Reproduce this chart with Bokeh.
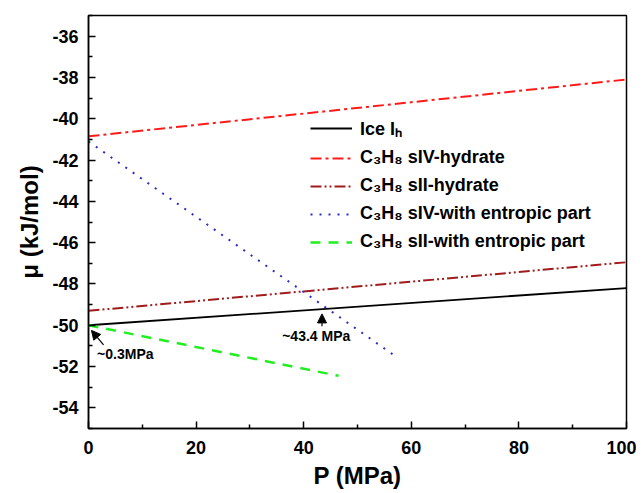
from bokeh.plotting import figure
from bokeh.models import Legend, LegendItem, Arrow, NormalHead, Label, Range1d, FixedTicker
from bokeh.embed import file_html
from bokeh.resources import INLINE

# ---- data ----
p_ice = [0, 100]
mu_ice = [-50.0, -48.2]
p_siv = [0, 100]
mu_siv = [-40.85, -38.1]
p_sii = [0, 100]
mu_sii = [-49.3, -46.95]
p_siv_ent = [0, 56.5]
mu_siv_ent = [-41.1, -51.4]
p_sii_ent = [0, 46.5]
mu_sii_ent = [-50.0, -52.45]

x_ticks = [0, 20, 40, 60, 80, 100]
x_minor = [10, 30, 50, 70, 90]
y_ticks = [-36, -38, -40, -42, -44, -46, -48, -50, -52, -54]
y_minor = [-35, -37, -39, -41, -43, -45, -47, -49, -51, -53, -55]
y_tick_labels = ["-36", "-38", "-40", "-42", "-44", "-46", "-48", "-50", "-52", "-54"]

# annotations
ann_text = ["~0.3MPa", "~43.4 MPa"]
ann_tx = [1.6, 36.0]
ann_ty = [-51.0, -50.15]
arr_x0 = [2.8, 43.4]
arr_y0 = [-50.95, -50.05]
arr_x1 = [0.55, 43.4]
arr_y1 = [-50.25, -49.45]

FONT = "Liberation Sans"

p = figure(width=636, height=493, x_range=Range1d(0, 100), y_range=Range1d(-55, -35),
           output_backend="svg", toolbar_location=None,
           min_border_left=88, min_border_right=10, min_border_top=15, min_border_bottom=65)

p.xgrid.visible = False
p.ygrid.visible = False
p.outline_line_color = "black"
p.outline_line_width = 1.5
p.outline_line_alpha = 1.0
p.background_fill_color = "white"

p.xaxis.ticker = FixedTicker(ticks=x_ticks, minor_ticks=x_minor)
p.yaxis.ticker = FixedTicker(ticks=y_ticks, minor_ticks=y_minor)
p.yaxis.major_label_overrides = {t: s for t, s in zip(y_ticks, y_tick_labels)}
for ax in (p.xaxis, p.yaxis):
    ax.major_tick_in = 7
    ax.major_tick_out = 0
    ax.minor_tick_in = 4
    ax.minor_tick_out = 0
    ax.axis_line_width = 1.5
    ax.major_tick_line_width = 1.5
    ax.minor_tick_line_width = 1.5
    ax.major_label_text_font = FONT
    ax.major_label_text_font_style = "bold"
    ax.major_label_text_font_size = "18px"
    ax.major_label_text_color = "black"
    ax.axis_label_text_font = FONT
    ax.axis_label_text_font_style = "bold"
    ax.axis_label_text_font_size = "24px"
    ax.axis_label_text_color = "black"
    ax.major_label_standoff = 10
p.xaxis.major_label_standoff = 12
p.xaxis.axis_label = "P (MPa)"
p.yaxis.axis_label = "μ (kJ/mol)"
p.yaxis.axis_label_standoff = 6
p.xaxis.axis_label_standoff = 5

r_ice = p.line(p_ice, mu_ice, line_color="black", line_width=1.8)
r_siv = p.line(p_siv, mu_siv, line_color="#ff1a1a", line_width=2, line_dash="11 4 3 4")
r_sii = p.line(p_sii, mu_sii, line_color="#a01c1c", line_width=2, line_dash="11 3 2 3 2 3")
r_siv_ent = p.line(p_siv_ent, mu_siv_ent, line_color="#2a2ac8", line_width=2, line_dash="2 7")
r_sii_ent = p.line(p_sii_ent, mu_sii_ent, line_color="#22ee22", line_width=2.5, line_dash="10 8")

legend = Legend(items=[
    LegendItem(label="Ice Iₕ", renderers=[r_ice]),
    LegendItem(label="C₃H₈ sIV-hydrate", renderers=[r_siv]),
    LegendItem(label="C₃H₈ sII-hydrate", renderers=[r_sii]),
    LegendItem(label="C₃H₈ sIV-with entropic part", renderers=[r_siv_ent]),
    LegendItem(label="C₃H₈ sII-with entropic part", renderers=[r_sii_ent]),
], location=(222, 176))
legend.border_line_color = None
legend.background_fill_alpha = 0
legend.padding = 0
legend.margin = 0
legend.spacing = 7
legend.glyph_width = 42
legend.glyph_height = 20
legend.label_height = 20
legend.label_standoff = 8
legend.label_text_font = FONT
legend.label_text_font_style = "bold"
legend.label_text_font_size = "18px"
legend.label_text_color = "black"
p.add_layout(legend, "center")

for i in range(len(ann_text)):
    p.add_layout(Arrow(end=NormalHead(size=9, fill_color="black", line_color="black"),
                       x_start=arr_x0[i], y_start=arr_y0[i], x_end=arr_x1[i], y_end=arr_y1[i],
                       line_color="black", line_width=1.2))
    p.add_layout(Label(x=ann_tx[i], y=ann_ty[i], text=ann_text[i], text_font=FONT,
                       text_font_style="bold", text_font_size="14px", text_color="black",
                       text_baseline="top"))

open("out.html", "w").write(file_html(p, INLINE))
